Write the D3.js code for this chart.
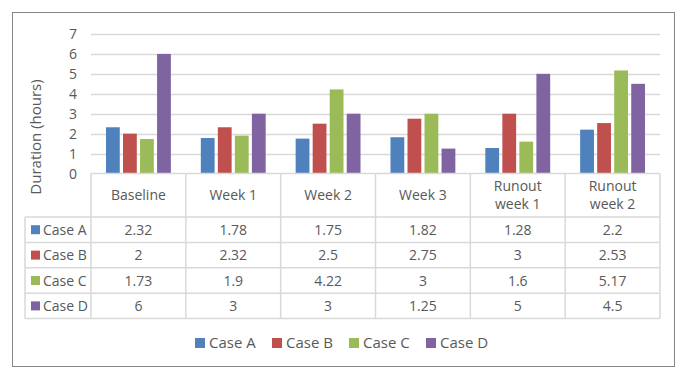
<!DOCTYPE html>
<html>
<head>
<meta charset="utf-8">
<script src="https://cdn.jsdelivr.net/npm/d3@7"></script>
<style>
  body { margin: 0; background: #fff; }
  svg text { font-family: "Open Sans", sans-serif; fill: #595959; }
</style>
</head>
<body>
<svg id="chart" width="687" height="379"></svg>
<script>
// categories and series
var categories = ["Baseline", "Week 1", "Week 2", "Week 3", "Runout week 1", "Runout week 2"];
var headerLines = [["Baseline"], ["Week 1"], ["Week 2"], ["Week 3"], ["Runout", "week 1"], ["Runout", "week 2"]];
var seriesNames = ["Case A", "Case B", "Case C", "Case D"];
var caseA = [2.32, 1.78, 1.75, 1.82, 1.28, 2.2];
var caseB = [2, 2.32, 2.5, 2.75, 3, 2.53];
var caseC = [1.73, 1.9, 4.22, 3, 1.6, 5.17];
var caseD = [6, 3, 3, 1.25, 5, 4.5];
var yTicks = [0, 1, 2, 3, 4, 5, 6, 7];

var seriesValues = [caseA, caseB, caseC, caseD];
var colors = ["#4F81BD", "#C0504D", "#9BBB59", "#8064A2"];

var svg = d3.select("#chart");

// outer chart border
svg.append("rect")
    .attr("x", 12.5).attr("y", 12.5)
    .attr("width", 662).attr("height", 354)
    .attr("fill", "none").attr("stroke", "#868686").attr("stroke-width", 1);

var plotLeft = 91, plotRight = 660, plotTop = 34, plotBottom = 173.5;
var tableLeft = 25;
var headerH = 43.5, rowH = 25.4;

var x = d3.scaleBand().domain(categories).range([plotLeft, plotRight]);
var x1 = d3.scaleBand().domain(seriesNames).range([0, x.bandwidth()])
    .paddingInner(0.19).paddingOuter(0.88);
var y = d3.scaleLinear().domain([0, 7]).range([plotBottom, plotTop]);

// gridlines
svg.append("g").selectAll("line").data(yTicks.slice(1)).enter().append("line")
    .attr("x1", plotLeft).attr("x2", plotRight)
    .attr("y1", function(d) { return Math.round(y(d)) + 0.5; })
    .attr("y2", function(d) { return Math.round(y(d)) + 0.5; })
    .attr("stroke", "#d9d9d9").attr("stroke-width", 1.5);

// y tick labels
svg.append("g").selectAll("text").data(yTicks).enter().append("text")
    .attr("x", 77).attr("y", function(d) { return y(d); })
    .attr("dy", "0.36em")
    .attr("text-anchor", "end")
    .style("font-size", "14px")
    .text(function(d) { return d; });

// y axis title
svg.append("text")
    .attr("transform", "translate(41,137) rotate(-90)")
    .attr("text-anchor", "middle")
    .style("font-size", "15px")
    .text("Duration (hours)");

// bars
var groups = svg.append("g").selectAll("g").data(categories).enter().append("g")
    .attr("transform", function(d) { return "translate(" + x(d) + ",0)"; });

groups.selectAll("rect")
    .data(function(d, i) {
        return seriesNames.map(function(s, j) { return { name: s, value: seriesValues[j][i], idx: j }; });
    })
    .enter().append("rect")
    .attr("x", function(d) { return x1(d.name); })
    .attr("width", x1.bandwidth())
    .attr("y", function(d) { return y(d.value); })
    .attr("height", function(d) { return plotBottom - y(d.value); })
    .attr("fill", function(d) { return colors[d.idx]; });

// data table
var tableBottom = plotBottom + headerH + rowH * seriesNames.length;
var lineColor = "#d9d9d9";
var tbl = svg.append("g");

// horizontal line on category axis
tbl.append("line")
    .attr("x1", plotLeft).attr("x2", plotRight)
    .attr("y1", plotBottom).attr("y2", plotBottom)
    .attr("stroke", lineColor).attr("stroke-width", 1.5);

// row lines
var rowYs = d3.range(seriesNames.length + 1).map(function(i) { return plotBottom + headerH + i * rowH; });
tbl.selectAll("line.row").data(rowYs).enter().append("line")
    .attr("class", "row")
    .attr("x1", tableLeft).attr("x2", plotRight)
    .attr("y1", function(d) { return d; }).attr("y2", function(d) { return d; })
    .attr("stroke", lineColor).attr("stroke-width", 1.5);

// column lines
var colXs = categories.map(function(c) { return x(c); }).concat([plotRight]);
tbl.selectAll("line.col").data(colXs).enter().append("line")
    .attr("class", "col")
    .attr("x1", function(d) { return d; }).attr("x2", function(d) { return d; })
    .attr("y1", plotBottom).attr("y2", tableBottom)
    .attr("stroke", lineColor).attr("stroke-width", 1.5);

tbl.append("line")
    .attr("x1", tableLeft).attr("x2", tableLeft)
    .attr("y1", plotBottom + headerH).attr("y2", tableBottom)
    .attr("stroke", lineColor).attr("stroke-width", 1.5);

// header labels, one text per line
categories.forEach(function(c, i) {
    var lines = headerLines[i];
    var cy = plotBottom + headerH / 2;
    var gap = 18;
    lines.forEach(function(l, k) {
        tbl.append("text")
            .attr("text-anchor", "middle")
            .style("font-size", "14px")
            .attr("x", x(c) + x.bandwidth() / 2)
            .attr("y", cy + (k - (lines.length - 1) / 2) * gap)
            .attr("dy", "0.36em")
            .text(l);
    });
});

// row labels with keys
seriesNames.forEach(function(s, j) {
    var cy = plotBottom + headerH + j * rowH + rowH / 2;
    tbl.append("rect")
        .attr("x", 31).attr("y", cy - 4.5)
        .attr("width", 9).attr("height", 9)
        .attr("fill", colors[j]);
    tbl.append("text")
        .attr("x", 43).attr("y", cy).attr("dy", "0.36em")
        .style("font-size", "14px")
        .text(s);
    tbl.selectAll(null).data(seriesValues[j]).enter().append("text")
        .attr("x", function(d, i) { return x(categories[i]) + x.bandwidth() / 2; })
        .attr("y", cy).attr("dy", "0.36em")
        .attr("text-anchor", "middle")
        .style("font-size", "14px")
        .text(function(d) { return d; });
});

// legend
var legendX = [195, 272, 349, 426];
var legend = svg.append("g").selectAll("g").data(seriesNames).enter().append("g")
    .attr("transform", function(d, i) { return "translate(" + legendX[i] + ",343)"; });
legend.append("rect")
    .attr("x", 0).attr("y", -5).attr("width", 10).attr("height", 10)
    .attr("fill", function(d, i) { return colors[i]; });
legend.append("text")
    .attr("x", 14).attr("dy", "0.36em")
    .style("font-size", "15px")
    .text(function(d) { return d; });
</script>
</body>
</html>
